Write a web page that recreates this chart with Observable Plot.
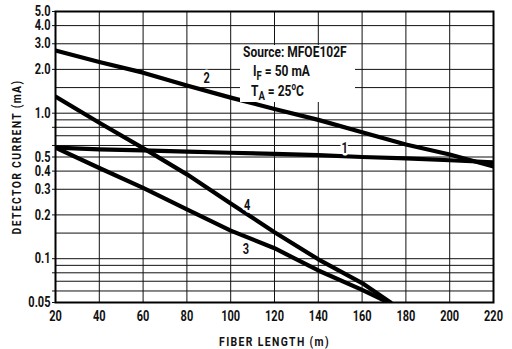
<!DOCTYPE html>
<html><head><meta charset="utf-8">
<script src="https://cdn.jsdelivr.net/npm/d3@7"></script>
<script src="https://cdn.jsdelivr.net/npm/@observablehq/plot@0.6"></script>
<style>
body{margin:0;background:#fff;}
#wrap{position:relative;width:512px;height:349px;font-family:Roboto,"Noto Sans",sans-serif;}
#note{position:absolute;left:240px;top:45px;width:115px;height:57px;background:#fff;font-size:15px;font-weight:700;color:#111;}
#note div{position:absolute;white-space:nowrap;line-height:1;transform:scaleX(0.8);transform-origin:0 0;}
#note sub{font-size:12px;vertical-align:-4px;}
#note sup{font-size:10px;vertical-align:6px;}
</style>
</head><body>
<div id="wrap">
<div id="chart"></div>
<div id="note">
  <div style="left:3px;top:0px;">Source: MFOE102F</div>
  <div style="left:13px;top:19px;">I<sub>F</sub> = 50 mA</div>
  <div style="left:11px;top:37px;">T<sub>A</sub> = 25<sup>o</sup>C</div>
</div>
</div>
<script>
// Data
const fiberLength = [20, 40, 60, 80, 100, 120, 140, 160, 180, 200, 220];
const curve1 = [0.58, 0.565, 0.555, 0.545, 0.535, 0.525, 0.515, 0.50, 0.49, 0.475, 0.46];
const curve2 = [2.7, 2.25, 1.9, 1.55, 1.28, 1.07, 0.9, 0.74, 0.61, 0.52, 0.43];
const curve3x = [20, 40, 60, 80, 100, 120, 140, 160, 172];
const curve3 = [0.58, 0.42, 0.307, 0.218, 0.156, 0.118, 0.083, 0.061, 0.05];
const curve4x = [20, 40, 60, 80, 100, 120, 140, 160, 173];
const curve4 = [1.30, 0.86, 0.575, 0.38, 0.24, 0.152, 0.099, 0.068, 0.05];

const curveLabels = ["1", "2", "3", "4"];
const curveLabelX = [152, 89, 107, 107.5];
const curveLabelY = [0.575, 1.73, 0.116, 0.233];

const xTicks = [20, 40, 60, 80, 100, 120, 140, 160, 180, 200, 220];
const yTickLabels = [5, 4, 3, 2, 1, 0.8, 0.6, 0.5, 0.4, 0.3, 0.2, 0.1, 0.08, 0.06, 0.05];
const yGrid = [5, 4, 3, 2, 1.5, 1, 0.9, 0.8, 0.7, 0.6, 0.5, 0.4, 0.3, 0.2, 0.15, 0.1, 0.09, 0.08, 0.07, 0.06, 0.05];

const rows = [];
fiberLength.forEach((x, i) => rows.push({series: "1", x, y: curve1[i]}));
fiberLength.forEach((x, i) => rows.push({series: "2", x, y: curve2[i]}));
curve3x.forEach((x, i) => rows.push({series: "3", x, y: curve3[i]}));
curve4x.forEach((x, i) => rows.push({series: "4", x, y: curve4[i]}));
const labels = curveLabels.map((t, i) => ({t, x: curveLabelX[i], y: curveLabelY[i]}));

const fmt = v => v >= 1 ? v.toFixed(1) : String(v);

const chart = Plot.plot({
  width: 512,
  height: 349,
  marginLeft: 55,
  marginRight: 19,
  marginTop: 11,
  marginBottom: 47,
  style: {fontFamily: 'Roboto,"Noto Sans",sans-serif', fontSize: "14px", fontWeight: 700, color: "#111", background: "#fff"},
  x: {domain: [20, 220], ticks: xTicks, tickSize: 0, tickPadding: 8, label: "FIBER LENGTH (m)", labelArrow: "none", labelAnchor: "center", labelOffset: 43},
  y: {type: "log", domain: [0.05, 5], ticks: yTickLabels, tickFormat: fmt, tickSize: 3, tickPadding: 2, label: "DETECTOR CURRENT (mA)", labelArrow: "none", labelAnchor: "center", labelOffset: 44},
  marks: [
    Plot.ruleY(yGrid, {stroke: "#111", strokeWidth: 1}),
    Plot.ruleX(xTicks, {stroke: "#111", strokeWidth: 1}),
    Plot.line(rows, {x: "x", y: "y", z: "series", stroke: "#000", strokeWidth: 4.2, clip: true}),
    Plot.text(labels, {x: "x", y: "y", text: "t", fontSize: 14, fontWeight: 700, fill: "#111", stroke: "#fff", strokeWidth: 5, paintOrder: "stroke"}),
    Plot.frame({stroke: "#000", strokeWidth: 2})
  ]
});
document.getElementById("chart").appendChild(chart);

// condense all text horizontally around its anchor point (the reference uses a condensed face)
d3.select(chart).selectAll("text").each(function () {
  const el = this;
  let t = el.getAttribute("transform") || "";
  const x = el.getAttribute("x");
  if (x !== null && /^-?[\d.]+$/.test(x)) {
    t += ` translate(${+x},0)`;
    el.removeAttribute("x");
  }
  if (/FIBER|DETECTOR/.test(el.textContent)) {
    el.style.fontSize = "13px";
    el.style.letterSpacing = "1.7px";
    t += " scale(0.8,1)";
  } else {
    el.style.fontSize = "14.5px";
    t += " scale(0.76,1)";
  }
  el.setAttribute("transform", t.trim());
});
</script>
</body></html>
